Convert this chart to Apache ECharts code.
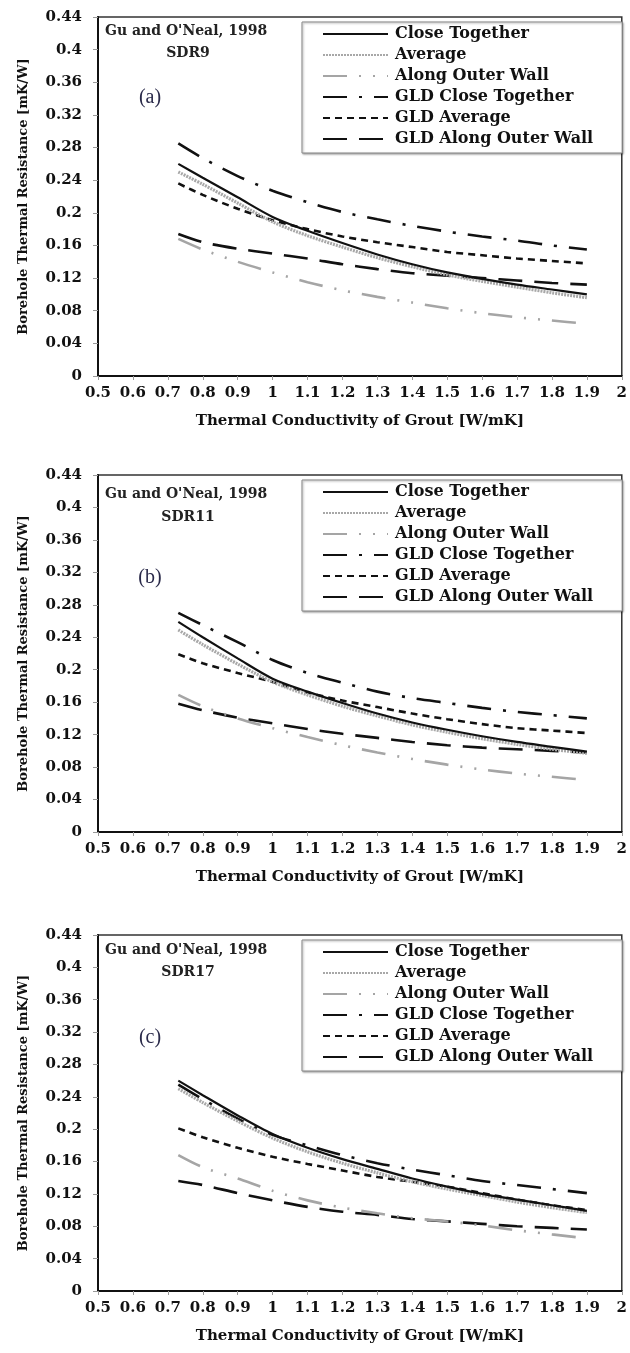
<!DOCTYPE html>
<html>
<head>
<meta charset="utf-8">
<title>Borehole Thermal Resistance</title>
<script src="https://cdn.jsdelivr.net/npm/echarts@6/dist/echarts.min.js"></script>
<style>
    html, body { margin: 0; padding: 0; background: #fff; }
    #main { width: 630px; height: 1353px; }
</style>
</head>
<body>
<div id="main"></div>
<script>
// 横轴：灌浆导热系数
const conductivity = [0.73, 0.8, 0.9, 1.0, 1.1, 1.2, 1.3, 1.4, 1.5, 1.6, 1.7, 1.8, 1.9];

// 曲线名称（图例）
const curveNames = ['Close Together', 'Average', 'Along Outer Wall', 'GLD Close Together', 'GLD Average', 'GLD Along Outer Wall'];

// 面板标签
const panelLabels = ['(a)', '(b)', '(c)'];
const panelSdr = ['SDR9', 'SDR11', 'SDR17'];
const sourceText = "Gu and O'Neal, 1998";

// 纵轴范围
const yMin = 0;
const yMax = 0.44;
const yStep = 0.04;
// 横轴范围
const xMin = 0.5;
const xMax = 2;
const xStep = 0.1;

// (a) SDR9
const sdr9CloseTogether = [0.260, 0.243, 0.219, 0.195, 0.178, 0.163, 0.149, 0.137, 0.127, 0.119, 0.112, 0.106, 0.100];
const sdr9Average = [0.250, 0.235, 0.212, 0.189, 0.172, 0.158, 0.145, 0.134, 0.124, 0.116, 0.109, 0.102, 0.096];
const sdr9AlongOuterWall = [0.168, 0.155, 0.140, 0.127, 0.115, 0.105, 0.097, 0.090, 0.083, 0.077, 0.072, 0.068, 0.064];
const sdr9GldCloseTogether = [0.285, 0.267, 0.245, 0.227, 0.213, 0.201, 0.192, 0.184, 0.177, 0.171, 0.166, 0.160, 0.155];
const sdr9GldAverage = [0.236, 0.222, 0.205, 0.191, 0.180, 0.171, 0.164, 0.158, 0.152, 0.148, 0.144, 0.141, 0.138];
const sdr9GldAlongOuterWall = [0.174, 0.164, 0.156, 0.150, 0.144, 0.137, 0.131, 0.126, 0.123, 0.120, 0.117, 0.114, 0.112];

// (b) SDR11
const sdr11CloseTogether = [0.259, 0.240, 0.214, 0.189, 0.173, 0.159, 0.146, 0.135, 0.126, 0.118, 0.111, 0.105, 0.099];
const sdr11Average = [0.249, 0.231, 0.207, 0.185, 0.169, 0.155, 0.143, 0.132, 0.123, 0.115, 0.108, 0.102, 0.097];
const sdr11AlongOuterWall = [0.169, 0.155, 0.140, 0.128, 0.117, 0.107, 0.098, 0.090, 0.083, 0.077, 0.072, 0.068, 0.064];
const sdr11GldCloseTogether = [0.270, 0.255, 0.234, 0.212, 0.196, 0.184, 0.173, 0.165, 0.159, 0.153, 0.148, 0.144, 0.140];
const sdr11GldAverage = [0.219, 0.208, 0.196, 0.185, 0.172, 0.162, 0.154, 0.146, 0.139, 0.133, 0.128, 0.125, 0.122];
const sdr11GldAlongOuterWall = [0.158, 0.150, 0.141, 0.134, 0.127, 0.121, 0.116, 0.111, 0.107, 0.104, 0.102, 0.100, 0.098];

// (c) SDR17
const sdr17CloseTogether = [0.260, 0.242, 0.217, 0.194, 0.177, 0.163, 0.151, 0.139, 0.129, 0.120, 0.113, 0.106, 0.099];
const sdr17Average = [0.250, 0.233, 0.210, 0.189, 0.172, 0.158, 0.146, 0.135, 0.126, 0.118, 0.110, 0.103, 0.097];
const sdr17AlongOuterWall = [0.168, 0.153, 0.139, 0.124, 0.112, 0.103, 0.096, 0.090, 0.086, 0.081, 0.075, 0.070, 0.065];
const sdr17GldCloseTogether = [0.255, 0.237, 0.213, 0.193, 0.180, 0.168, 0.158, 0.150, 0.143, 0.136, 0.131, 0.126, 0.121];
const sdr17GldAverage = [0.201, 0.190, 0.177, 0.166, 0.157, 0.149, 0.141, 0.135, 0.129, 0.121, 0.113, 0.106, 0.100];
const sdr17GldAlongOuterWall = [0.136, 0.131, 0.121, 0.112, 0.104, 0.098, 0.094, 0.089, 0.086, 0.083, 0.080, 0.078, 0.076];

const panelData = [
    [sdr9CloseTogether, sdr9Average, sdr9AlongOuterWall, sdr9GldCloseTogether, sdr9GldAverage, sdr9GldAlongOuterWall],
    [sdr11CloseTogether, sdr11Average, sdr11AlongOuterWall, sdr11GldCloseTogether, sdr11GldAverage, sdr11GldAlongOuterWall],
    [sdr17CloseTogether, sdr17Average, sdr17AlongOuterWall, sdr17GldCloseTogether, sdr17GldAverage, sdr17GldAlongOuterWall]
];

// 线型
const lineStyles = [
    { color: '#111', width: 2.2, type: 'solid' },
    { color: '#a8a8a8', width: 3.2, type: [2, 1] },
    { color: '#a5a5a5', width: 2.6, type: [24, 12, 2, 12, 2, 12] },
    { color: '#111', width: 2.6, type: [24, 12, 3, 12] },
    { color: '#111', width: 2.6, type: [7, 5] },
    { color: '#111', width: 2.6, type: [24, 12] }
];

// 布局（每个面板的位置）
const panelTops = [17, 475, 935];
const panelHeights = [359, 357, 356];
const panelLeft = 98;
const panelRight = 6;
const sourceOffsets = [15, 20, 16];
const sdrOffsets = [36, 42, 37];
const labelOffsets = [81, 103, 103];

const fontFamily = '"DejaVu Serif", "Liberation Serif", serif';

const grids = [];
const xAxes = [];
const yAxes = [];
const legends = [];
const series = [];
const graphics = [];

panelTops.forEach((top, i) => {
    grids.push({
        left: panelLeft, right: panelRight, top: top, height: panelHeights[i],
        show: true, borderColor: '#333', borderWidth: 1.5, backgroundColor: '#fff'
    });

    xAxes.push({
        type: 'value', gridIndex: i, min: xMin, max: xMax, interval: xStep,
        name: 'Thermal Conductivity of Grout [W/mK]',
        nameLocation: 'middle', nameGap: 38,
        nameTextStyle: { fontFamily: fontFamily, fontWeight: 'bold', fontSize: 15, color: '#111' },
        axisLine: { lineStyle: { color: '#111', width: 2 } },
        axisTick: { show: true, inside: false, length: 4, lineStyle: { color: '#999' } },
        axisLabel: { fontFamily: fontFamily, fontWeight: 'bold', fontSize: 15, color: '#111', margin: 10 },
        splitLine: { show: false }
    });

    yAxes.push({
        type: 'value', gridIndex: i, min: yMin, max: yMax, interval: yStep,
        name: 'Borehole Thermal Resistance [mK/W]',
        nameLocation: 'middle', nameGap: 68, nameRotate: 90,
        nameTextStyle: { fontFamily: fontFamily, fontWeight: 'bold', fontSize: 13, color: '#111' },
        axisLine: { show: true, lineStyle: { color: '#111', width: 2 } },
        axisTick: { show: true, inside: false, length: 5, lineStyle: { color: '#999' } },
        axisLabel: {
            fontFamily: fontFamily, fontWeight: 'bold', fontSize: 15, color: '#111', margin: 16,
            formatter: v => String(+v.toFixed(2))
        },
        splitLine: { show: false }
    });

    legends.push({
        data: curveNames, orient: 'vertical', left: 302, top: top + 5,
        itemWidth: 65, itemHeight: 14, itemGap: 5,
        padding: [4, 29, 6, 20],
        backgroundColor: '#fff', borderColor: '#888', borderWidth: 1,
        shadowColor: 'rgba(0,0,0,0.35)', shadowBlur: 2, shadowOffsetX: 1, shadowOffsetY: 1,
        itemStyle: { opacity: 0 },
        textStyle: { fontFamily: fontFamily, fontWeight: 'bold', fontSize: 16, color: '#111', lineHeight: 14, padding: [0, 0, 0, 2] },
        selectedMode: false
    });

    // 六条曲线
    panelData[i].forEach((values, j) => {
        series.push({
            name: curveNames[j], type: 'line', xAxisIndex: i, yAxisIndex: i,
            data: conductivity.map((x, k) => [x, values[k]]),
            smooth: 0.3, symbol: 'none', showSymbol: false,
            itemStyle: { color: lineStyles[j].color },
            lineStyle: lineStyles[j], z: 10 - j
        });
    });

    // 文字标注
    graphics.push({
        type: 'text', left: 105, top: top + sourceOffsets[i] - 8,
        style: { text: sourceText, font: 'bold 14px ' + fontFamily, fill: '#222' }
    });
    graphics.push({
        type: 'text', x: 188, y: top + sdrOffsets[i],
        style: { text: panelSdr[i], font: 'bold 14px ' + fontFamily, fill: '#222', align: 'center', verticalAlign: 'middle' }
    });
    graphics.push({
        type: 'text', x: 150, y: top + labelOffsets[i],
        style: { text: panelLabels[i], font: '20px "Liberation Serif", serif', fill: '#2a2a4a', align: 'center', verticalAlign: 'middle' }
    });
});

const myChart = echarts.init(document.getElementById('main'));
myChart.setOption({
    animation: false,
    backgroundColor: '#fff',
    grid: grids,
    xAxis: xAxes,
    yAxis: yAxes,
    legend: legends,
    series: series,
    graphic: graphics
});
</script>
</body>
</html>
